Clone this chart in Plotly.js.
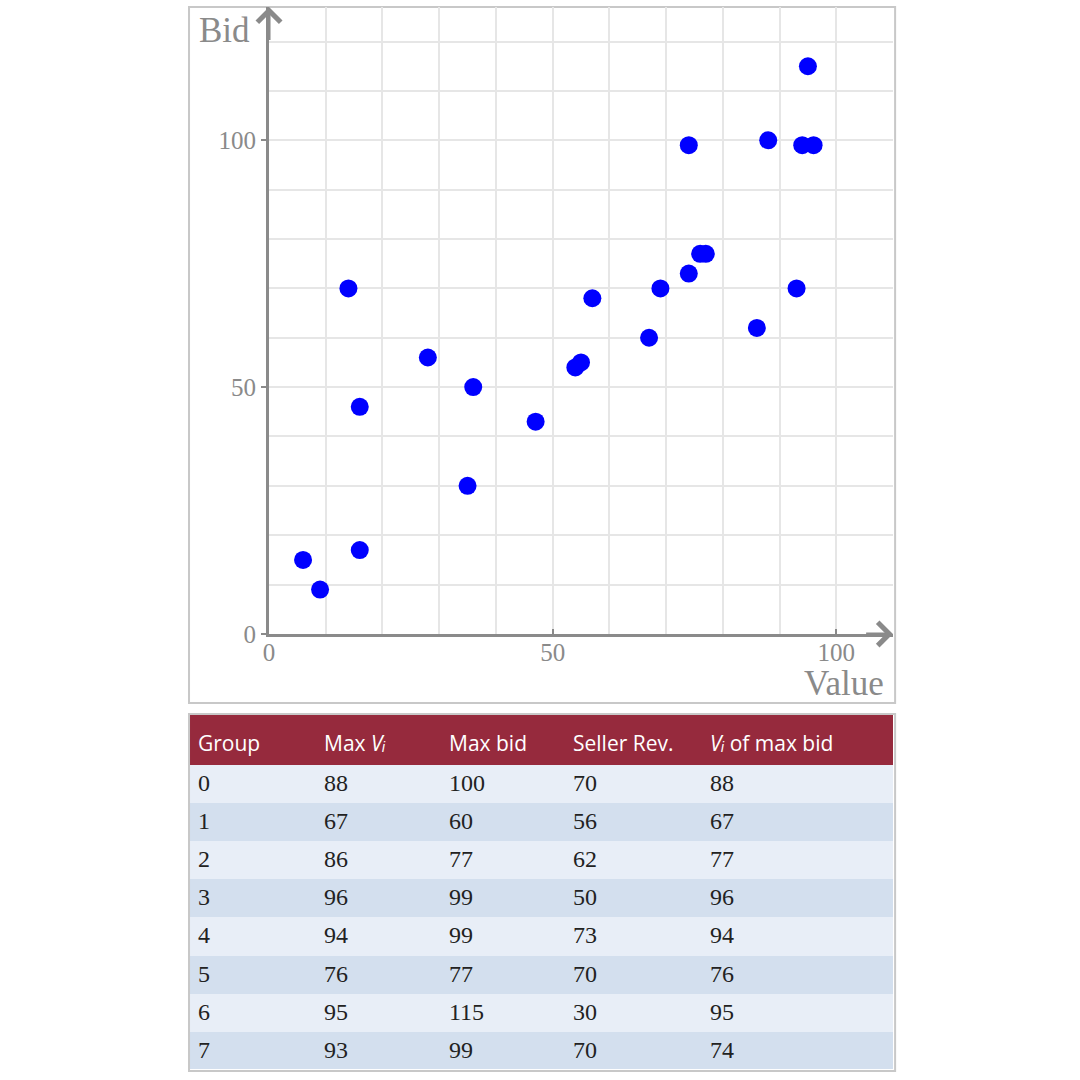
<!DOCTYPE html>
<html>
<head>
<meta charset="utf-8">
<script src="https://cdn.plot.ly/plotly-3.0.1.min.js"></script>
<style>
  html, body { margin: 0; padding: 0; background: #ffffff; }
  #chart { width: 1080px; height: 1080px; }
</style>
</head>
<body>
<div id="chart"></div>
<script>
// ---- scatter data: bidder value vs bid ----
const values = [6, 9, 14, 16, 16, 28, 36, 35, 47, 54, 55, 57, 67, 69, 74, 74, 76, 77, 86, 88, 93, 94, 95, 96];
const bids   = [15, 9, 70, 46, 17, 56, 50, 30, 43, 54, 55, 68, 60, 70, 73, 99, 77, 77, 62, 100, 70, 99, 115, 99];

// ---- table data ----
const tableHeaders = ['<span>Group</span>', '<span>Max <i>V\u1D62</i></span>', '<span>Max bid</span>', '<span>Seller Rev.</span>', '<span><i>V\u1D62</i> of max bid</span>'];
const groups     = [0, 1, 2, 3, 4, 5, 6, 7];
const maxValue   = [88, 67, 86, 96, 94, 76, 95, 93];
const maxBid     = [100, 60, 77, 99, 99, 77, 115, 99];
const sellerRev  = [70, 56, 62, 50, 73, 70, 30, 70];
const valueOfMaxBid = [88, 67, 77, 96, 94, 76, 95, 74];

// ---- axis ticks ----
const xTicks = [0, 50, 100];
const yTicks = [0, 50, 100];

const axisGrey = '#8a8a8a';
const gridGrey = '#e6e6e6';
const headerRed = '#962a3d';
const serif = 'Liberation Serif, DejaVu Serif, serif';

const rowColors = groups.map((g, i) => i % 2 === 0 ? '#e8eef7' : '#d3dfee');

const scatter = {
  type: 'scatter',
  mode: 'markers',
  x: values,
  y: bids,
  xaxis: 'x', yaxis: 'y',
  marker: { color: '#0000ff', size: 18, line: { width: 0 } },
  hoverinfo: 'x+y',
  showlegend: false
};

// paper spans y 7..1070 px, x 190..893 px
const table = {
  type: 'table',
  domain: { x: [0, 1], y: [0, 0.3283] },
  columnwidth: [126, 125, 124, 137, 191],
  header: {
    values: tableHeaders,
    align: 'left',
    height: 44,
    fill: { color: 'rgba(0,0,0,0)' },
    line: { width: 0, color: 'rgba(0,0,0,0)' },
    font: { family: 'Open Sans, sans-serif', size: 21, color: '#ffffff' }
  },
  cells: {
    values: [groups, maxValue, maxBid, sellerRev, valueOfMaxBid],
    align: 'left',
    height: 38.1,
    fill: { color: [rowColors] },
    line: { width: 0, color: 'rgba(0,0,0,0)' },
    font: { family: serif, size: 24, color: '#222222' }
  }
};

const layout = {
  width: 1080,
  height: 1080,
  margin: { l: 190, r: 187, t: 7, b: 10, pad: 0 },
  paper_bgcolor: '#ffffff',
  plot_bgcolor: '#ffffff',
  showlegend: false,
  xaxis: {
    domain: [0.1124, 1],
    range: [0, 110],
    tickvals: xTicks,
    ticks: 'inside',
    ticklen: 5,
    tickwidth: 2,
    tickcolor: axisGrey,
    showline: true,
    linecolor: axisGrey,
    linewidth: 3,
    showgrid: true,
    gridcolor: gridGrey,
    gridwidth: 2,
    zeroline: false,
    ticklabelstandoff: -6,
    minor: { dtick: 10, showgrid: true, gridcolor: gridGrey, gridwidth: 2, ticks: '' },
    tickfont: { family: serif, size: 25, color: axisGrey },
    fixedrange: true
  },
  yaxis: {
    domain: [0.4102, 1],
    range: [0, 127],
    tickvals: yTicks,
    ticks: 'outside',
    ticklen: 5,
    tickwidth: 2,
    tickcolor: axisGrey,
    showline: true,
    linecolor: axisGrey,
    linewidth: 3,
    showgrid: true,
    gridcolor: gridGrey,
    gridwidth: 2,
    zeroline: false,
    minor: { dtick: 10, showgrid: true, gridcolor: gridGrey, gridwidth: 2, ticks: '' },
    tickfont: { family: serif, size: 25, color: axisGrey },
    fixedrange: true
  },
  shapes: [
    // chart frame
    { type: 'rect', xref: 'paper', yref: 'paper', x0: -0.0014, x1: 1.003, y0: 0.3453, y1: 1.0,
      line: { color: '#c8c8c8', width: 2 }, fillcolor: 'rgba(0,0,0,0)', layer: 'below' },
    // table header band
    { type: 'rect', xref: 'paper', yref: 'paper', x0: 0, x1: 1, y0: 0.2869, y1: 0.3339,
      line: { width: 0 }, fillcolor: headerRed, layer: 'below' },
    // table frame
    { type: 'rect', xref: 'paper', yref: 'paper', x0: -0.0014, x1: 1.003, y0: -0.0009, y1: 0.3349,
      line: { color: '#c8c8c8', width: 2 }, fillcolor: 'rgba(0,0,0,0)', layer: 'above' }
  ],
  annotations: [
    { xref: 'x', yref: 'y', axref: 'x', ayref: 'y', x: 110, y: 0, ax: 105, ay: 0,
      text: '', showarrow: true, arrowhead: 4, arrowsize: 1.5, arrowwidth: 3, arrowcolor: axisGrey, standoff: 0 },
    { xref: 'x', yref: 'y', axref: 'x', ayref: 'y', x: 0, y: 127, ax: 0, ay: 120,
      text: '', showarrow: true, arrowhead: 4, arrowsize: 1.5, arrowwidth: 3, arrowcolor: axisGrey, standoff: 0 },
    { xref: 'paper', yref: 'paper', x: 0.088, y: 0.978, xanchor: 'right', yanchor: 'middle',
      text: 'Bid', showarrow: false, font: { family: serif, size: 35, color: axisGrey } },
    { xref: 'paper', yref: 'paper', x: 0.990, y: 0.364, xanchor: 'right', yanchor: 'middle',
      text: 'Value', showarrow: false, font: { family: serif, size: 35, color: axisGrey } }
  ]
};

Plotly.newPlot('chart', [scatter, table], layout, { displayModeBar: false });
</script>
</body>
</html>
